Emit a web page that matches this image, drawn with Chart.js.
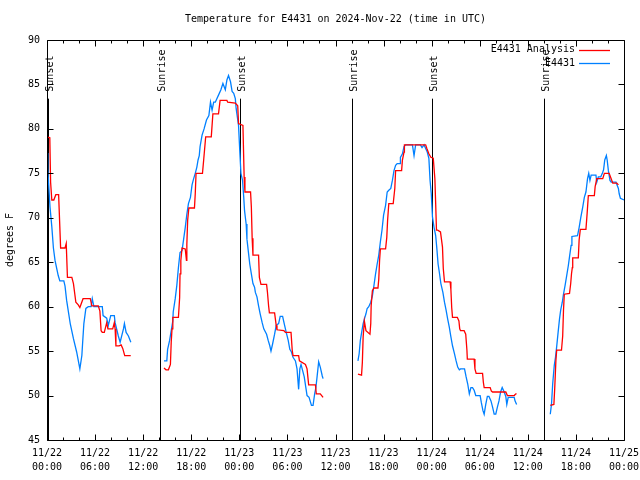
<!DOCTYPE html>
<html>
<head>
<meta charset="utf-8">
<script src="https://cdn.jsdelivr.net/npm/chart.js@4"></script>
<style>
html,body{margin:0;padding:0;background:#fff;}
#wrap{width:640px;height:480px;}
</style>
</head>
<body>
<div id="wrap"><canvas id="c" width="640" height="480"></canvas></div>
<script>
// ---- data (hours since 2024-11-22 00:00 UTC, degrees F) ----
const titleText = 'Temperature for E4431 on 2024-Nov-22 (time in UTC)';
const seriesNames = ['E4431 Analysis', 'E4431'];
const xTickDates = ['11/22','11/22','11/22','11/22','11/23','11/23','11/23','11/23','11/24','11/24','11/24','11/24','11/25'];
const xTickTimes = ['00:00','06:00','12:00','18:00','00:00','06:00','12:00','18:00','00:00','06:00','12:00','18:00','00:00'];
const yTickValues = [45,50,55,60,65,70,75,80,85,90];
const sunHours  = [0.1, 14.05, 24.1, 38.05, 48.05, 62.05];
const sunLabels = ['Sunset','Sunrise','Sunset','Sunrise','Sunset','Sunrise'];

const redHours = [
0.0,0.35,0.45,0.6,0.85,1.1,1.45,1.7,2.25,2.4,2.55,3.1,3.3,3.6,3.9,4.1,4.5,5.4,5.6,6.4,6.6,6.75,6.9,7.15,7.45,7.6,8.2,8.4,8.5,8.6,9.0,9.25,9.45,9.7,10.45,
12,
14.6,14.85,15.15,15.4,15.5,15.6,15.7,16.4,16.55,16.6,16.7,16.85,17.25,17.4,17.45,17.55,17.7,18.4,18.5,18.6,19.4,19.55,19.8,20.5,20.7,21.4,21.6,22.45,22.55,23.5,23.8,23.9,24.45,24.55,24.6,24.7,25.4,25.5,25.6,25.7,26.4,26.5,26.7,27.4,27.5,27.65,27.75,28.4,28.6,28.7,29.55,29.75,30.45,30.6,30.7,31.4,31.5,32.25,32.45,32.65,33.5,33.6,34.1,34.45,
36,
38.8,39.25,39.35,39.45,39.6,39.8,40.3,40.4,40.45,40.6,40.8,41.3,41.4,41.5,41.6,42.25,42.4,42.5,42.65,43.2,43.4,43.5,44.25,44.35,44.55,44.6,47.25,47.4,47.65,47.9,48.2,48.4,48.5,48.6,48.75,49.1,49.35,49.45,49.6,50.3,50.4,50.5,50.6,51.2,51.4,51.5,51.6,52.05,52.25,52.4,52.45,53.3,53.4,53.55,54.35,54.45,54.55,55.3,55.45,55.6,57.25,57.45,58.3,58.5,58.6,
60,
62.8,63.25,63.35,63.5,63.6,64.2,64.35,64.45,64.55,65.2,65.35,65.45,65.55,65.6,66.3,66.4,66.55,67.25,67.4,67.55,68.3,68.4,68.6,69.35,69.55,70.15,70.4,70.6,71.1,71.3
];
const redTemps = [
79.1,79.0,74.0,72.0,72.0,72.6,72.6,66.6,66.6,67.1,63.3,63.3,62.6,60.5,60.2,59.9,60.9,60.9,60.1,60.1,59.5,57.3,57.1,57.1,58.2,57.5,57.5,58.2,57.5,55.6,55.6,55.7,55.3,54.5,54.5,
null,
53.1,52.9,52.9,53.5,56.0,57.5,58.8,58.8,61.0,63.7,65.2,66.6,66.5,65.2,67.0,69.7,71.1,71.1,72.7,75.0,75.0,76.5,79.1,79.1,81.7,81.7,83.2,83.2,83.0,82.9,82.6,80.6,80.4,76.5,74.6,72.9,72.9,71.2,67.7,65.8,65.8,63.3,62.5,62.5,61.7,60.1,59.3,59.3,57.9,57.4,57.3,57.1,57.1,55.1,54.5,54.5,53.9,53.5,53.0,51.2,51.2,50.2,50.2,49.8,
null,
52.4,52.3,53.7,56.6,58.4,57.3,56.9,58.1,60.1,61.8,62.1,62.1,63.1,65.2,66.5,66.5,67.8,69.7,71.6,71.6,73.3,75.3,75.3,76.5,77.4,78.2,78.2,77.8,77.2,76.8,76.7,74.4,71.6,68.6,68.6,68.4,66.7,64.3,62.8,62.8,61.9,59.9,58.8,58.8,58.4,57.5,57.3,57.3,56.9,55.1,54.1,54.1,53.0,52.5,52.5,51.5,50.9,50.9,50.5,50.4,50.4,50.0,50.0,50.2,50.2,
null,
48.9,49.0,50.7,53.9,55.1,55.1,56.7,59.6,61.4,61.5,62.6,63.7,64.4,65.5,65.5,67.5,68.7,68.7,70.5,72.5,72.5,73.5,74.4,74.4,75.0,75.0,74.4,73.9,73.9,73.7
];

const blueHours = [
0.0,0.1,0.2,0.375,0.6,0.8,1.0,1.4,1.6,2.1,2.25,2.45,2.9,3.3,3.7,4.1,4.35,4.45,4.6,4.85,5.15,5.5,5.65,5.85,6.9,7.0,7.45,7.65,7.95,8.4,8.5,8.9,9.125,9.54,9.66,9.875,10.16,10.46,
12,
14.6,14.95,15.05,15.3,15.5,15.7,15.75,16.0,16.2,16.4,16.6,16.85,17.05,17.25,17.45,17.65,17.9,18.1,18.3,18.5,18.7,18.85,19.0,19.1,19.35,19.6,19.9,20.2,20.4,20.6,20.8,21.0,21.4,21.7,21.95,22.25,22.45,22.65,22.9,23.1,23.3,23.5,23.6,23.9,24.05,24.2,24.4,24.55,24.65,24.85,24.95,25.15,25.3,25.5,25.7,25.9,26.0,26.2,26.4,26.6,26.85,27.05,27.4,27.6,27.8,27.95,28.15,28.4,28.6,28.9,29.1,29.4,29.6,29.85,30.1,30.3,30.5,30.7,31.0,31.2,31.4,31.55,31.7,31.9,32.1,32.3,32.45,32.7,33.0,33.2,33.4,33.55,33.7,33.9,34.1,34.35,34.45,
36,
38.8,38.95,39.1,39.3,39.45,39.6,39.8,39.95,40.15,40.4,40.6,40.8,41.0,41.2,41.4,41.6,41.8,42.0,42.25,42.45,42.65,42.9,43.1,43.3,43.5,43.7,44.05,44.1,44.35,44.55,44.75,45.6,45.8,46.0,46.6,46.8,47.05,47.25,47.45,47.65,47.8,47.95,48.1,48.3,48.5,48.65,48.8,48.95,49.15,49.4,49.6,49.8,50.0,50.2,50.4,50.6,50.85,51.05,51.25,51.45,51.6,52.1,52.3,52.5,52.7,52.9,53.1,53.3,53.5,54.05,54.2,54.4,54.55,54.75,54.95,55.15,55.4,55.6,55.8,56.0,56.2,56.4,56.6,56.8,57.05,57.25,57.375,57.55,58.3,58.4,58.6,
60,
62.8,62.95,63.1,63.3,63.45,63.6,63.8,63.95,64.1,64.3,64.45,64.65,64.85,65.05,65.2,65.4,65.5,66.2,66.4,66.6,66.85,67.05,67.25,67.45,67.6,67.75,67.9,68.5,68.6,68.8,69.1,69.3,69.45,69.6,69.8,69.9,70.05,70.25,70.4,71.0,71.3,71.4,71.55,72.0
];
const blueTemps = [
77.3,75.5,73.9,71.2,69.0,66.6,65.2,63.5,62.9,62.9,62.3,60.7,58.1,56.4,54.9,53.0,54.5,56.0,58.1,59.8,60.0,60.0,60.9,60.0,60.0,59.0,58.7,57.9,59.0,59.0,58.2,56.7,56.0,57.5,58.1,57.1,56.7,56.0,
null,
53.9,53.9,55.2,56.2,57.3,58.4,59.4,60.9,62.4,64.4,66.1,66.3,67.6,68.9,70.4,71.6,72.3,73.7,74.4,75.0,75.7,76.5,77.0,78.0,79.3,80.0,81.0,81.5,83.0,82.1,83.0,83.0,83.8,84.4,85.1,84.4,85.5,86.0,85.3,84.2,84.0,83.4,82.3,80.4,77.6,75.0,74.2,72.3,70.8,69.3,67.6,66.0,64.8,63.7,62.6,62.2,61.6,61.1,60.1,59.2,58.2,57.5,56.9,56.2,55.6,55.0,55.8,56.9,57.9,58.1,58.9,58.9,58.1,57.1,56.2,55.2,54.9,54.3,53.9,53.0,50.7,53.0,53.5,52.8,52.1,50.9,50.0,49.8,48.9,48.9,50.2,50.9,52.1,53.8,53.2,52.2,51.9,
null,
53.9,54.7,56.2,57.3,58.1,58.6,59.2,59.8,60.0,60.5,61.2,62.4,63.7,64.8,65.8,67.3,68.6,70.3,71.4,72.9,73.1,73.3,74.2,75.3,75.9,76.1,76.1,76.8,77.2,78.0,78.2,78.2,77.0,78.2,78.2,77.9,78.2,77.8,77.4,76.7,74.2,72.7,70.1,68.9,68.0,66.5,64.8,63.9,62.6,61.6,60.5,59.6,58.6,57.7,56.6,55.6,54.7,53.9,53.2,52.9,53.0,53.0,52.1,51.3,50.2,50.9,50.9,50.6,50.0,50.0,49.2,48.3,47.9,49.0,49.9,49.9,49.4,48.7,47.9,47.9,48.7,49.4,50.4,50.9,50.4,49.9,49.0,49.8,49.8,49.4,49.0,
null,
47.9,49.0,51.3,53.4,54.3,55.5,57.3,58.6,59.6,60.5,61.4,62.4,63.5,64.6,65.6,66.9,67.9,68.0,68.9,70.0,71.2,72.3,72.9,74.4,75.0,74.2,74.8,74.8,74.0,74.6,74.6,75.0,75.4,76.5,77.0,76.5,75.3,74.2,74.0,74.0,73.3,72.7,72.2,72.0
];

const seriesColors = ['#ff0000', '#0080ff'];
// ----------------------------------------------------------

function pairs(hs, ts){ return hs.map((h,i)=>({x:h, y:ts[i]})); }
const FONT = "'DejaVu Sans Mono', 'Liberation Mono', monospace";

const gnuPlugin = {
  id: 'gnu',
  beforeDatasetsDraw(chart){
    const {ctx, chartArea:a, scales:{x, y}} = chart;
    ctx.save();
    ctx.strokeStyle = '#000';
    ctx.lineWidth = 1;
    ctx.fillStyle = '#000';
    ctx.font = '10px ' + FONT;
    const lineTop = y.getPixelForValue(83.4);
    sunHours.forEach((h, i) => {
      const px = Math.round(x.getPixelForValue(h)) + 0.5;
      ctx.beginPath(); ctx.moveTo(px, lineTop); ctx.lineTo(px, a.bottom); ctx.stroke();
      ctx.save();
      ctx.translate(px + 1.5, lineTop - 7);
      ctx.rotate(-Math.PI/2);
      ctx.textAlign = 'left'; ctx.textBaseline = 'middle';
      ctx.fillText(sunLabels[i], 0, 0);
      ctx.restore();
    });
    ctx.restore();
  },
  afterDraw(chart){
    const {ctx, chartArea:a, scales:{x, y}} = chart;
    ctx.save();
    ctx.strokeStyle = '#000';
    ctx.lineWidth = 1;
    const L = Math.round(a.left)+0.5, R = Math.round(a.right)+0.5, T = Math.round(a.top)+0.5, B = Math.round(a.bottom)+0.5;
    ctx.beginPath();
    ctx.rect(L, T, R-L, B-T);
    for (let h = 0; h <= 72; h += 2) {
      const px = Math.round(x.getPixelForValue(h)) + 0.5;
      const len = (h % 6 === 0) ? 6 : 3;
      ctx.moveTo(px, B); ctx.lineTo(px, B - len);
      ctx.moveTo(px, T); ctx.lineTo(px, T + len);
    }
    yTickValues.forEach(v => {
      const py = Math.round(y.getPixelForValue(v)) + 0.5;
      ctx.moveTo(L, py); ctx.lineTo(L + 6, py);
      ctx.moveTo(R, py); ctx.lineTo(R - 6, py);
    });
    ctx.stroke();
    // legend (gnuplot style, inside top-right)
    ctx.font = '10px ' + FONT;
    ctx.textAlign = 'right'; ctx.textBaseline = 'middle';
    ctx.fillStyle = '#000';
    chart.data.datasets.forEach((ds, i) => {
      const ly = 49.5 + i * 13.5;
      ctx.fillText(ds.label, 575, ly);
      ctx.strokeStyle = ds.borderColor;
      ctx.lineWidth = 1.3;
      ctx.beginPath(); ctx.moveTo(579, Math.round(ly)+0.5); ctx.lineTo(610, Math.round(ly)+0.5); ctx.stroke();
    });
    ctx.restore();
  }
};

Chart.defaults.color = '#000';
Chart.defaults.font.family = FONT;
Chart.defaults.font.size = 10;

new Chart(document.getElementById('c'), {
  type: 'line',
  data: {
    datasets: [
      { label: seriesNames[0], data: pairs(redHours, redTemps), borderColor: seriesColors[0], borderWidth: 1.3, pointRadius: 0, fill: false, tension: 0, spanGaps: false },
      { label: seriesNames[1], data: pairs(blueHours, blueTemps), borderColor: seriesColors[1], borderWidth: 1.3, pointRadius: 0, fill: false, tension: 0, spanGaps: false }
    ]
  },
  options: {
    responsive: false,
    animation: false,
    events: [],
    layout: { padding: { left: 0, right: 16, top: 0, bottom: 0 } },
    plugins: {
      legend: { display: false },
      tooltip: { enabled: false },
      title: { display: true, fullSize: false, text: titleText, color: '#000', font: { family: FONT, size: 10, weight: 'normal', lineHeight: 1.2 }, padding: { top: 13, bottom: 15 } }
    },
    scales: {
      x: {
        type: 'linear', min: 0, max: 72,
        grid: { display: false, drawTicks: false },
        border: { display: false },
        ticks: {
          stepSize: 6, autoSkip: false, maxRotation: 0, minRotation: 0, padding: 6,
          font: { family: FONT, size: 10, lineHeight: 1.4 },
          callback: (v) => { const i = Math.round(v / 6); return [xTickDates[i], xTickTimes[i]]; }
        },
        afterFit: (s) => { s.height = 40; s.paddingLeft = 0; s.paddingRight = 0; }
      },
      y: {
        type: 'linear', min: 45, max: 90,
        grid: { display: false, drawTicks: false },
        border: { display: false },
        ticks: { stepSize: 5, padding: 7, font: { family: FONT, size: 10 } },
        title: { display: true, text: 'degrees F', font: { family: FONT, size: 10 }, padding: { top: 4, bottom: 0 } },
        afterFit: (s) => { s.width = 47; s.paddingTop = 0; s.paddingBottom = 0; }
      }
    }
  },
  plugins: [gnuPlugin]
});
</script>
</body>
</html>
